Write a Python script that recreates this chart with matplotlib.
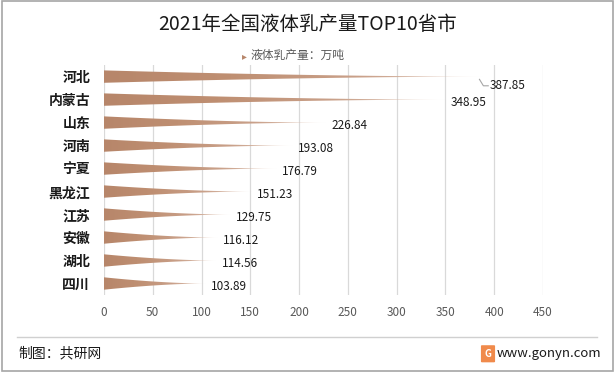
import matplotlib
matplotlib.use("Agg")
import matplotlib.pyplot as plt
import numpy as np
from matplotlib.patches import Polygon, Rectangle, FancyBboxPatch
from matplotlib.colors import LinearSegmentedColormap

plt.rcParams['font.family'] = ['Noto Sans CJK SC', 'DejaVu Sans']

# donnees
provinces = ["河北", "内蒙古", "山东", "河南", "宁夏", "黑龙江", "江苏", "安徽", "湖北", "四川"]
valeurs = [387.85, 348.95, 226.84, 193.08, 176.79, 151.23, 129.75, 116.12, 114.56, 103.89]
ticks_x = [0, 50, 100, 150, 200, 250, 300, 350, 400, 450]

fig = plt.figure(figsize=(6.15, 3.72), dpi=100)
ax = fig.add_axes([0.169, 0.207, 0.714, 0.618])

# degrade brun -> clair
cmap = LinearSegmentedColormap.from_list("brun", ["#b7866a", "#bf8f72", "#c9a089", "#e2c9ba"])
demi = 0.27
t = np.linspace(0, 1, 80)
for i, v in enumerate(valeurs):
    # forme en pointe (bords concaves)
    epais = demi * (1 - t) ** 1.7
    haut = np.column_stack([t * v, i - epais])
    bas = np.column_stack([t[::-1] * v, i + epais[::-1]])
    poly = Polygon(np.vstack([haut, bas]), closed=True, facecolor="none", edgecolor="none")
    ax.add_patch(poly)
    grad = np.linspace(0, 1, 256).reshape(1, -1)
    im = ax.imshow(grad, cmap=cmap, aspect="auto", extent=(0, v, i + demi, i - demi),
                   interpolation="bilinear", zorder=2)
    im.set_clip_path(poly)

ax.set_xlim(0, 450)
ax.set_ylim(9.5, -0.5)
ax.set_xticks(ticks_x)
ax.set_xticklabels([str(t) for t in ticks_x], fontsize=8.5, color="#595959")
ax.set_yticks(range(len(provinces)))
ax.set_yticklabels(provinces, fontsize=10, fontweight="bold", color="#1a1a1a")
ax.tick_params(length=0, pad=8)
ax.tick_params(axis="y", pad=10)
for s in ax.spines.values():
    s.set_visible(False)
ax.grid(axis="x", color="#d9d9d9", linewidth=0.9, zorder=0)
ax.set_axisbelow(True)

# etiquettes de valeurs
for i, v in enumerate(valeurs):
    if i == 0:
        ax.plot([v - 3, v + 1, v + 6], [i + 0.12, i + 0.4, i + 0.4], color="#a6a6a6",
                lw=0.8, zorder=3)
        ax.text(v + 7, i + 0.4, f"{v:.2f}", fontsize=8.5, va="center", ha="left",
                color="#1a1a1a")
    else:
        ax.text(v + 6, i + 0.12, f"{v:.2f}", fontsize=8.5, va="center", ha="left",
                color="#1a1a1a")

# titre et legende
fig.text(0.5, 0.935, "2021年全国液体乳产量TOP10省市", fontsize=14, ha="center",
         va="center", color="#1a1a1a")
fig.text(0.397, 0.85, "▸", fontsize=7, ha="center", va="center", color="#b7866a",
         family=["DejaVu Sans"])
fig.text(0.408, 0.85, "液体乳产量：万吨", fontsize=8.5, ha="left", va="center",
         color="#595959")

# pied de page
fig.add_artist(plt.Line2D([0.027, 0.97], [0.094, 0.094], color="#d0d0d0", lw=1,
                          transform=fig.transFigure))
fig.text(0.03, 0.05, "制图：共研网", fontsize=10, ha="left", va="center", color="#1a1a1a")
fig.add_artist(FancyBboxPatch((0.784, 0.028), 0.019, 0.042,
                              boxstyle="round,pad=0.002", transform=fig.transFigure,
                              facecolor="#f08a4b", edgecolor="none"))
fig.text(0.7935, 0.049, "G", fontsize=7, fontweight="bold", ha="center", va="center",
         color="white")
fig.text(0.808, 0.05, "www.gonyn.com", fontsize=9.5, ha="left", va="center",
         color="#1a1a1a")

# cadre exterieur
fig.add_artist(Rectangle((0.003, 0.004), 0.994, 0.992, transform=fig.transFigure,
                         fill=False, edgecolor="#a6a6a6", lw=1.2))

fig.savefig("out.png", dpi=100)
